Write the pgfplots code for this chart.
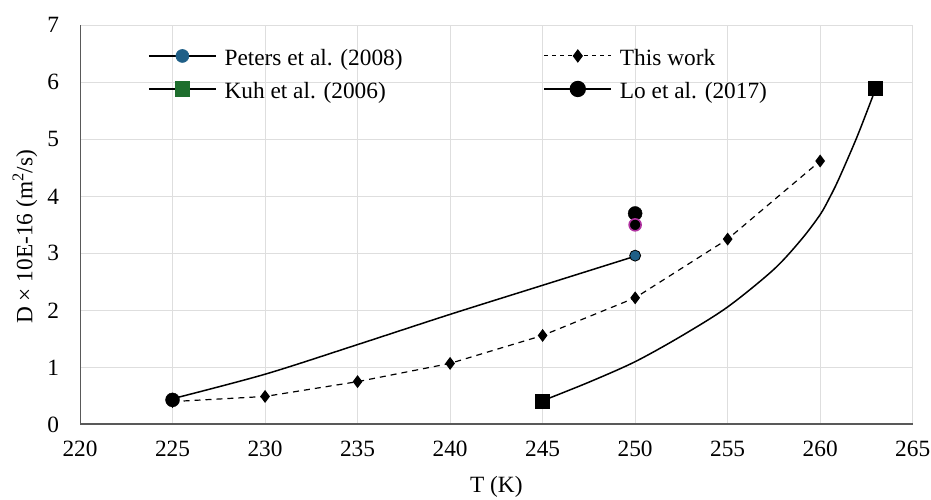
\documentclass[border=0pt]{standalone}
\usepackage{fontspec}
\setmainfont{Liberation Serif}
\usepackage{pgfplots}
\pgfplotsset{compat=1.18}
\definecolor{gridc}{RGB}{222,222,222}
\definecolor{axc}{RGB}{89,89,89}
\definecolor{peters}{RGB}{31,95,135}
\definecolor{kuh}{RGB}{30,110,45}
\definecolor{pinkc}{RGB}{176,50,160}
\newcommand{\ff}{\fontsize{23.4}{28}\selectfont}
\begin{document}
\begin{tikzpicture}
\begin{axis}[
  at={(0,0)}, anchor=south west,
  scale only axis, width=832.5bp, height=399bp,
  xmin=220, xmax=265, ymin=0, ymax=7,
  xtick={220,225,...,265}, ytick={0,1,...,7},
  grid=major, major grid style={draw=gridc, line width=1bp},
  axis lines*=left,
  x axis line style={draw=axc, line width=2bp},
  y axis line style={draw=axc, line width=1bp},
  major tick length=0pt,
  /pgf/number format/assume math mode=true,
  tick label style={font=\ff},
  xticklabel style={anchor=center, yshift=-24bp},
  yticklabel style={anchor=center, xshift=-26.7bp},
  label style={font=\ff},
  xlabel={T (K)},
  xlabel style={at={(axis description cs:0.5,-0.157)}, anchor=center},
  ylabel={D × 10E-16 (m\textsuperscript{2}/s)},
  ylabel style={at={(axis description cs:-0.066,0.47)}, anchor=center, rotate=0},
  legend columns=2,
  legend cell align=left,
  legend style={at={(axis description cs:0.0817,0.940)}, anchor=north west,
    draw=none, fill=none, font=\ff, inner sep=0pt, row sep=11bp,
    nodes={inner xsep=0pt, inner ysep=0pt, text height=16bp, text depth=5bp},
    /tikz/every odd column/.append style={column sep=8bp},
    /tikz/every even column/.append style={column sep=141bp}},
  legend image code/.code={%
    \draw[mark repeat=2, mark phase=2, #1] plot coordinates {(0bp,4bp)(33.5bp,4bp)(67bp,4bp)};},
]
% legend entries
\addlegendimage{black, line width=1.3bp, mark=*, mark size=6.5bp, mark options={fill=peters, draw=peters, line width=0.6bp, solid}}
\addlegendentry{Peters et al. (2008)}
\addlegendimage{black, line width=1bp, dash pattern=on 4bp off 4bp, mark=diamond*, mark size=6bp, mark options={fill=black, solid}}
\addlegendentry{This work}
\addlegendimage{black, line width=1.3bp, mark=square*, mark size=7bp, mark options={fill=kuh, draw=kuh, solid}}
\addlegendentry{Kuh et al. (2006)}
\addlegendimage{black, line width=1.3bp, mark=*, mark size=7.5bp, mark options={fill=black, draw=black, solid}}
\addlegendentry{Lo et al. (2017)}
% Peters line
\addplot[forget plot, black, line width=1.5bp, smooth, mark=none] coordinates {
 (225,0.45) (230,0.88) (235,1.40) (240,1.93) (245,2.44) (250,2.95)};
% This work
\addplot[forget plot, black, line width=1.2bp, dash pattern=on 6bp off 5bp,
  mark=diamond*, mark size=5.5bp, mark options={fill=black, solid}] coordinates {
 (225,0.40) (230,0.49) (235,0.75) (240,1.07) (245,1.56) (250,2.22) (255,3.25) (260,4.62)};
% Kuh curve
\addplot[forget plot, black, line width=1.5bp, smooth, tension=0.5, mark=none] coordinates {
 (245,0.415) (247.5,0.74) (250,1.10) (252.5,1.55) (255,2.06) (257.5,2.72) (259,3.25) (260,3.68) (260.5,3.97) (261,4.30) (262,5.05) (263,5.89)};
\addplot[forget plot, only marks, mark=square*, mark size=7bp, mark options={fill=black, draw=black}] coordinates {
 (245,0.415) (263,5.89)};
% Peters marker
\addplot[forget plot, only marks, mark=*, mark size=5.5bp, mark options={fill=peters, draw=black, line width=0.8bp}] coordinates {
 (250,2.96)};
% Lo
\addplot[forget plot, only marks, mark=*, mark size=7bp, mark options={fill=black, draw=black}] coordinates {
 (225,0.43) (250,3.70)};
% other point
\addplot[forget plot, only marks, mark=*, mark size=6bp, mark options={fill=black, draw=pinkc, line width=1.6bp}] coordinates {
 (250,3.50)};
\end{axis}
\pgfresetboundingbox
\path (-80bp,-74.7bp) rectangle (850.8bp,424.3bp);
\end{tikzpicture}
\end{document}
